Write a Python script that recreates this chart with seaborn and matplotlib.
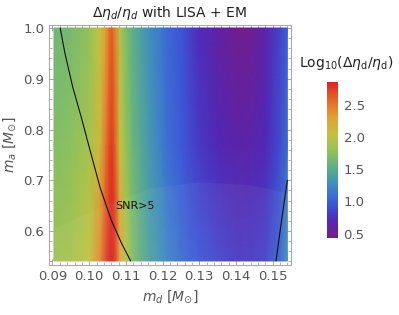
import matplotlib
matplotlib.use("Agg")
import matplotlib.pyplot as plt
import numpy as np
import seaborn as sns
from matplotlib.colors import LinearSegmentedColormap, Normalize
from matplotlib.ticker import MultipleLocator

sns.set_style("ticks")
plt.rcParams["font.family"] = ["DejaVu Sans"]
plt.rcParams["mathtext.fontset"] = "dejavusans"

# heat map values (log10 of relative error)
md_grid = [0.0904, 0.095, 0.100, 0.1029, 0.1045, 0.1055, 0.1062, 0.107, 0.1084,
           0.110, 0.1119, 0.114, 0.1166, 0.1193, 0.1212, 0.1248, 0.1275, 0.130,
           0.1348, 0.1384, 0.141, 0.144, 0.148, 0.152, 0.154]
ma_grid = [0.541, 0.77, 1.0]
log_ratio_low = [1.86, 1.9, 2.04, 2.4, 2.7, 2.82, 2.85, 2.78, 2.3,
                 1.98, 1.72, 1.55, 1.4, 1.3, 1.22, 1.1, 1.02, 0.96,
                 0.88, 0.82, 0.8, 0.8, 0.85, 1.05, 1.3]
log_ratio_mid = [1.72, 1.76, 1.9, 2.12, 2.5, 2.68, 2.74, 2.62, 2.05,
                 1.8, 1.6, 1.47, 1.33, 1.2, 1.1, 0.98, 0.88, 0.8,
                 0.7, 0.64, 0.62, 0.63, 0.7, 0.9, 1.08]
log_ratio_high = [1.63, 1.66, 1.8, 2.02, 2.3, 2.52, 2.6, 2.45, 1.95,
                  1.7, 1.52, 1.4, 1.27, 1.15, 1.06, 0.95, 0.82, 0.72,
                  0.6, 0.53, 0.47, 0.5, 0.62, 0.85, 1.0]

# SNR = 5 contours
snr_left_md = [0.0921, 0.0934, 0.0955, 0.0980, 0.1002, 0.1030, 0.1060, 0.1088, 0.1113]
snr_left_ma = [1.0, 0.95, 0.884, 0.82, 0.76, 0.685, 0.622, 0.576, 0.541]
snr_right_md = [0.1509, 0.1524, 0.1540]
snr_right_ma = [0.541, 0.62, 0.70]

# faint lighter band in the lower part
band_md = [0.0904, 0.1029, 0.1166, 0.130, 0.1438, 0.154]
band_ma = [0.606, 0.647, 0.685, 0.697, 0.691, 0.675]

cbar_ticks = [0.5, 1.0, 1.5, 2.0, 2.5]
vmin, vmax = 0.43, 2.85

rainbow = LinearSegmentedColormap.from_list("mma_rainbow", [
    (0.471, 0.109, 0.527), (0.311, 0.156, 0.720), (0.235, 0.349, 0.851),
    (0.239, 0.540, 0.775), (0.350, 0.680, 0.550), (0.560, 0.760, 0.360),
    (0.770, 0.760, 0.250), (0.890, 0.620, 0.200), (0.890, 0.400, 0.160),
    (0.857, 0.131, 0.132)])

GRAY = "#555555"

fig = plt.figure(figsize=(3.99, 3.15), dpi=100)
ax = fig.add_axes([0.1228, 0.1587, 0.6065, 0.7619])

values = np.array([log_ratio_low, log_ratio_mid, log_ratio_high])
norm = Normalize(vmin=vmin, vmax=vmax)
mesh = ax.pcolormesh(md_grid, ma_grid, values, shading="gouraud", cmap=rainbow, norm=norm)
ax.fill_between(band_md, ma_grid[0], band_ma, color="white", alpha=0.05, lw=0)

sns.lineplot(x=snr_left_md, y=snr_left_ma, sort=False, estimator=None, color="#111111", lw=0.8, ax=ax)
sns.lineplot(x=snr_right_md, y=snr_right_ma, sort=False, estimator=None, color="#111111", lw=0.8, ax=ax)
ax.text(0.1071, 0.649, "SNR>5", fontsize=8, color="#111111", va="center", ha="left")

ax.set_xlim(0.08905, 0.15499)
ax.set_ylim(0.533, 1.0059)
ax.xaxis.set_major_locator(MultipleLocator(0.01))
ax.xaxis.set_minor_locator(MultipleLocator(0.002))
ax.yaxis.set_major_locator(MultipleLocator(0.1))
ax.yaxis.set_minor_locator(MultipleLocator(0.02))
ax.set_xticklabels([f"{t:.2f}" for t in ax.get_xticks()])
ax.set_yticklabels([f"{t:.1f}" for t in ax.get_yticks()])
ax.tick_params(which="both", direction="in", top=True, right=True, colors="#999999",
               labelcolor=GRAY, labelsize=9.5)
ax.tick_params(which="major", length=4, width=0.6)
ax.tick_params(which="minor", length=2, width=0.5)
for spine in ax.spines.values():
    spine.set_color("#aaaaaa")
    spine.set_linewidth(0.8)

ax.set_xlabel(r"$m_d\ [M_{\odot}]$", fontsize=10, color=GRAY, labelpad=4)
ax.set_ylabel(r"$m_a\ [M_{\odot}]$", fontsize=10, color=GRAY, labelpad=4)
ax.set_title(r"$\Delta\eta_d/\eta_d$ with LISA + EM", fontsize=10, color="#222222", pad=6)

cax = fig.add_axes([0.8195, 0.2444, 0.0276, 0.4952])
cb = fig.colorbar(mesh, cax=cax, ticks=cbar_ticks)
cb.outline.set_visible(False)
cb.ax.tick_params(length=0, labelsize=9.5, labelcolor=GRAY, pad=4)
cb.ax.set_yticklabels([f"{t:.1f}" for t in cbar_ticks])
fig.text(0.867, 0.80, r"Log$_{10}$($\Delta\eta_{\rm d}/\eta_{\rm d}$)", fontsize=10,
         color="#222222", ha="center", va="center")

fig.savefig("out.png", dpi=100)
